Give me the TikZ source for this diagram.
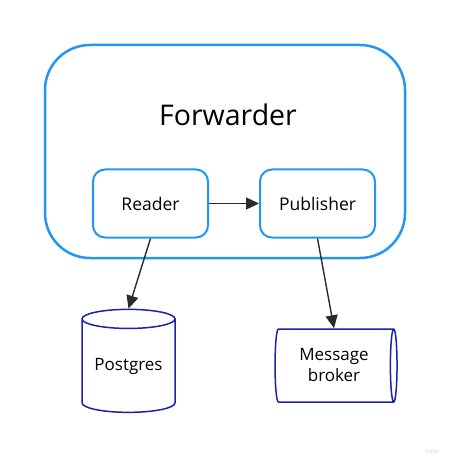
\documentclass[tikz,border=0pt]{standalone}
\usepackage{fontspec}
\setmainfont{Open Sans}
\usetikzlibrary{shapes.geometric,arrows.meta}
\definecolor{miroblue}{HTML}{2196F3}
\definecolor{navy}{HTML}{1A23A8}
\definecolor{arrowgray}{HTML}{2B2B2B}
\begin{document}
\begin{tikzpicture}[x=1pt,y=-1pt,
   outer/.style={draw=miroblue, line width=2.5pt, rounded corners=45pt,
                 minimum width=360pt, minimum height=213pt},
   title/.style={font=\fontsize{28.5}{34}\selectfont},
   part/.style={draw=miroblue, line width=2pt, rounded corners=12pt,
                minimum width=115pt, minimum height=68pt, font=\fontsize{17.5}{21}\selectfont},
   store/.style={draw=navy, line width=1.5pt, cylinder, inner sep=0pt,
                 font=\fontsize{17}{21}\selectfont, align=center},
   arrow/.style={draw=arrowgray, line width=1.4pt, -{Triangle[length=13pt,width=12pt]}}]

\useasboundingbox (0,0) rectangle (450,462);

\node[outer] (forwarder) at (225,151.5) {};
\node[title] (forwardertitle) at (228,115) {Forwarder};
\node[part] (reader) at (150.5,203.5) {Reader};
\node[part] (publisher) at (317.5,203.5) {Publisher};

\node[store, shape border rotate=90, aspect=0.28,
      minimum width=93pt, minimum height=103pt] (postgres) at (128.5,366) {Postgres};
\node[store, aspect=0.2,
      minimum width=73pt, minimum height=122pt] (broker) at (334,365.5) {Message\\broker};

\draw[arrow] (reader.east) -- (publisher.west);
\draw[arrow] (reader.south) -- (postgres.north);
\draw[arrow] (publisher.south) -- (broker.north);

\node[text=gray!35, font=\fontsize{6}{7}\selectfont] (watermark) at (432,451) {miro};

\end{tikzpicture}
\end{document}
